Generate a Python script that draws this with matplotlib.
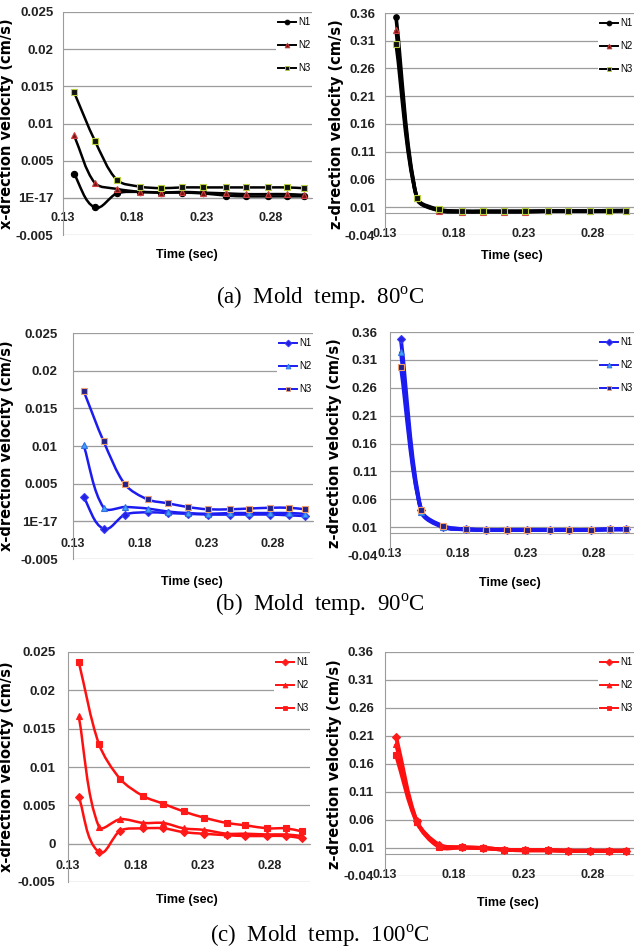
import numpy as np
import matplotlib.pyplot as plt
from matplotlib.path import Path
from matplotlib.patches import PathPatch
from matplotlib.lines import Line2D

plt.rcParams['mathtext.fontset'] = 'custom'
plt.rcParams['mathtext.rm'] = 'Liberation Serif'

W, H = 634, 952
NARROW = ['Liberation Sans Narrow', 'Liberation Sans', 'DejaVu Sans']

# sample times (sec)
time = [0.138, 0.153, 0.169, 0.186, 0.201, 0.216, 0.231, 0.248, 0.262, 0.278, 0.292, 0.304]
node_names = ['N1', 'N2', 'N3']
xticks = [0.13, 0.18, 0.23, 0.28]
xtick_labels = ['0.13', '0.18', '0.23', '0.28']

vx_ticks = [-0.005, 0, 0.005, 0.01, 0.015, 0.02, 0.025]
vx_labels_ab = ['-0.005', '1E-17', '0.005', '0.01', '0.015', '0.02', '0.025']
vx_labels_c = ['-0.005', '0', '0.005', '0.01', '0.015', '0.02', '0.025']
vz_ticks = [-0.04, 0.01, 0.06, 0.11, 0.16, 0.21, 0.26, 0.31, 0.36]
vz_labels = ['-0.04', '0.01', '0.06', '0.11', '0.16', '0.21', '0.26', '0.31', '0.36']

# (a) mold temp 80C
vx80_n1 = [0.0032, -0.0013, 0.0006, 0.0008, 0.0007, 0.0007, 0.0006, 0.0003, 0.0002, 0.0002, 0.0002, 0.0002]
vx80_n2 = [0.0084, 0.0020, 0.0012, 0.0008, 0.0007, 0.0008, 0.0007, 0.0006, 0.0005, 0.0005, 0.0005, 0.0004]
vx80_n3 = [0.0142, 0.0077, 0.0024, 0.0015, 0.0013, 0.0014, 0.0014, 0.0014, 0.0014, 0.0014, 0.0014, 0.0013]
vz80_n1 = [0.352, 0.026, 0.005, 0.002, 0.002, 0.002, 0.002, 0.003, 0.003, 0.003, 0.003, 0.004]
vz80_n2 = [0.329, 0.026, 0.004, 0.002, 0.002, 0.002, 0.002, 0.003, 0.003, 0.003, 0.003, 0.004]
vz80_n3 = [0.305, 0.027, 0.006, 0.003, 0.003, 0.003, 0.003, 0.003, 0.003, 0.003, 0.004, 0.004]

# (b) mold temp 90C
vx90_n1 = [0.0032, -0.0010, 0.0009, 0.0012, 0.0011, 0.0010, 0.0009, 0.0009, 0.0009, 0.0009, 0.0008, 0.0007]
vx90_n2 = [0.0101, 0.0018, 0.0019, 0.0017, 0.0013, 0.0011, 0.0010, 0.0011, 0.0011, 0.0011, 0.0011, 0.0010]
vx90_n3 = [0.0173, 0.0106, 0.0049, 0.0029, 0.0024, 0.0019, 0.0016, 0.0016, 0.0017, 0.0018, 0.0018, 0.0016]
vz90_n1 = [0.348, 0.040, 0.011, 0.006, 0.005, 0.005, 0.005, 0.005, 0.005, 0.005, 0.006, 0.006]
vz90_n2 = [0.325, 0.038, 0.010, 0.006, 0.005, 0.005, 0.005, 0.005, 0.005, 0.005, 0.006, 0.006]
vz90_n3 = [0.298, 0.040, 0.012, 0.006, 0.005, 0.005, 0.005, 0.005, 0.005, 0.005, 0.006, 0.006]

# (c) mold temp 100C
vx100_n1 = [0.0061, -0.0011, 0.0017, 0.0020, 0.0020, 0.0015, 0.0013, 0.0011, 0.0010, 0.0010, 0.0010, 0.0007]
vx100_n2 = [0.0166, 0.0022, 0.0032, 0.0027, 0.0027, 0.0020, 0.0018, 0.0013, 0.0013, 0.0012, 0.0012, 0.0010]
vx100_n3 = [0.0237, 0.0130, 0.0084, 0.0062, 0.0052, 0.0042, 0.0034, 0.0027, 0.0024, 0.0020, 0.0020, 0.0016]
vz100_n1 = [0.209, 0.058, 0.016, 0.011, 0.010, 0.007, 0.006, 0.006, 0.005, 0.005, 0.005, 0.005]
vz100_n2 = [0.196, 0.057, 0.015, 0.011, 0.010, 0.007, 0.006, 0.006, 0.005, 0.005, 0.005, 0.005]
vz100_n3 = [0.176, 0.056, 0.012, 0.011, 0.010, 0.007, 0.006, 0.006, 0.005, 0.005, 0.005, 0.005]

captions = [r'(a)  Mold  temp.  80$^{\mathrm{o}}$C',
            r'(b)  Mold  temp.  90$^{\mathrm{o}}$C',
            r'(c)  Mold  temp.  100$^{\mathrm{o}}$C']

# marker styles per row: (marker, face, edge)
styles_a = [('o', 'black', 'black'), ('^', '#7a1414', '#d04040'), ('s', '#111111', '#b8d040')]
styles_b = [('D', '#2222e0', '#3a3aff'), ('^', '#3fa0ff', '#2f70e0'), ('s', '#22228a', '#f0a070')]
styles_c = [('D', '#ff1a1a', '#ff1a1a'), ('^', '#ff1a1a', '#ff1a1a'), ('s', '#ff1a1a', '#ff1a1a')]


def smooth_path(x, y, sx, sy, k=0.3):
    # excel-like smoothed line; tangents worked out in screen units (sx, sy px per unit)
    x = np.asarray(x, float)
    y = np.asarray(y, float)
    P = np.column_stack([x * sx, y * sy])
    n = len(P)
    T = np.zeros_like(P)
    for i in range(n):
        d = P[min(i + 1, n - 1)] - P[max(i - 1, 0)]
        T[i] = d / np.hypot(*d)
    verts = [P[0]]
    codes = [Path.MOVETO]
    for i in range(n - 1):
        seg = np.hypot(*(P[i + 1] - P[i]))
        verts += [P[i] + T[i] * seg * k, P[i + 1] - T[i + 1] * seg * k, P[i + 1]]
        codes += [Path.CURVE4] * 3
    verts = np.array(verts) / [sx, sy]
    return Path(verts, codes)


fig = plt.figure(figsize=(W / 100, H / 100), dpi=100)


def panel(box, series, styles, lcolor, lw, ms, ylim, yticks, ylabels, ylabel,
          ylab_x, time_xy, ypad, xpad):
    l, t, r, b = box
    ax = fig.add_axes([l / W, 1 - b / H, (r - l) / W, (b - t) / H])
    xlim = (0.13, 0.31)
    sx = (r - l) / (xlim[1] - xlim[0])
    sy = (b - t) / (ylim[1] - ylim[0])
    handles = []
    for vals, (mk, fc, ec) in zip(series, styles):
        ax.add_patch(PathPatch(smooth_path(time, vals, sx, sy), fill=False,
                               edgecolor=lcolor, lw=lw, zorder=3))
        ax.plot(time, vals, ls='none', marker=mk, ms=ms, mfc=fc, mec=ec,
                mew=0.8, zorder=4)
        handles.append(Line2D([], [], color=lcolor, lw=1.4, marker=mk, ms=3.5,
                              mfc=fc, mec=ec, mew=0.6))
    ax.set_xlim(xlim)
    ax.set_ylim(ylim)
    ax.set_yticks(yticks)
    ax.set_yticklabels(ylabels)
    ax.set_xticks(xticks)
    ax.set_xticklabels(xtick_labels)
    ax.grid(axis='y', color='#9c9c9c', lw=0.9)
    ax.set_axisbelow(True)
    for s in ['top', 'right']:
        ax.spines[s].set_visible(False)
    ax.spines['bottom'].set_position(('data', 0))
    ax.spines['bottom'].set_color('#9c9c9c')
    ax.spines['left'].set_color('#9c9c9c')
    ax.tick_params(axis='y', length=0, pad=ypad, labelsize=9.5)
    ax.tick_params(axis='x', length=0, pad=xpad, labelsize=9)
    for lab in ax.get_xticklabels() + ax.get_yticklabels():
        lab.set_family(NARROW)
        lab.set_fontweight('bold')
        lab.set_color('#222222')
    ax.set_ylabel(ylabel, fontsize=10.5, fontweight='bold', family='DejaVu Sans')
    ax.yaxis.set_label_coords((ylab_x - l) / (r - l), 0.5)
    tx, ty = time_xy
    fig.text(tx / W, 1 - ty / H, 'Time (sec)', ha='center', va='center',
             fontsize=9, fontweight='bold', family='Liberation Sans')
    leg = ax.legend(handles, node_names, loc='upper right',
                    bbox_to_anchor=(1.0, 1 - 3 / (b - t)), frameon=True,
                    framealpha=1, edgecolor='none',
                    labelspacing=1.35, handlelength=1.8, handletextpad=0.2,
                    borderpad=0.2, borderaxespad=0, prop={'family': NARROW, 'size': 7})
    leg.get_frame().set_linewidth(0)
    return ax


vx_lim = (-0.005, 0.025)
vz_lim = (-0.04, 0.36)
xlab = 'x-drection velocity (cm/s)'
zlab = 'z-drection velocity (cm/s)'

panel((63, 12, 312, 235), [vx80_n1, vx80_n2, vx80_n3], styles_a, 'black', 1.8, 4.5,
      vx_lim, vx_ticks, vx_labels_ab, xlab, 14, (187, 255), 7, 10)
panel((385, 13, 634, 235), [vz80_n1, vz80_n2, vz80_n3], styles_a, 'black', 2.6, 4,
      vz_lim, vz_ticks, vz_labels, zlab, 344, (512, 256), 7, 11)
panel((73, 333, 313, 559), [vx90_n1, vx90_n2, vx90_n3], styles_b, '#1c1cf0', 1.8, 4,
      vx_lim, vx_ticks, vx_labels_ab, xlab, 14, (192, 582), 11, 12)
panel((390, 332, 634, 555), [vz90_n1, vz90_n2, vz90_n3], styles_b, '#1c1cf0', 2.8, 4,
      vz_lim, vz_ticks, vz_labels, zlab, 342, (510, 583), 9, 11)
panel((68, 652, 310, 882), [vx100_n1, vx100_n2, vx100_n3], styles_c, '#ff1010', 1.8, 4,
      vx_lim, vx_ticks, vx_labels_c, xlab, 14, (187, 900), 9, 12)
panel((385, 652, 634, 876), [vz100_n1, vz100_n2, vz100_n3], styles_c, '#ff1010', 2.8, 4,
      vz_lim, vz_ticks, vz_labels, zlab, 342, (508, 903), 8, 11)

for cap, cy in zip(captions, [298, 605, 936]):
    fig.text(320 / W, 1 - cy / H, cap, ha='center', va='center', fontsize=16.5,
             family='Liberation Serif')

fig.savefig('out.png', dpi=100)
